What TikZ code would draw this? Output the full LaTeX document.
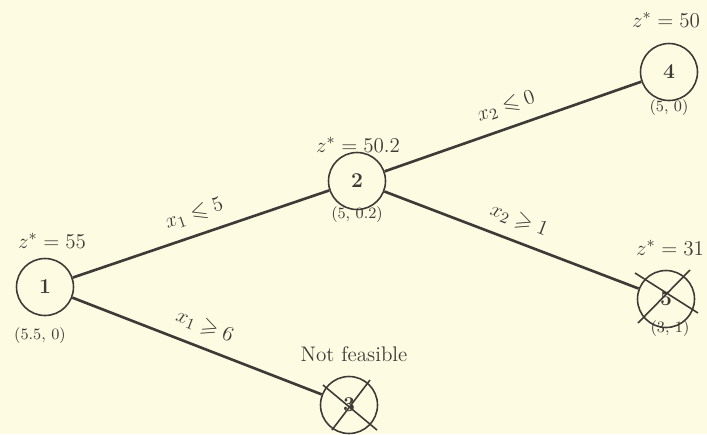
\documentclass[tikz,border=0pt]{standalone}
\usepackage{amssymb}
\usepackage{xcolor}
\usepackage{tikz}
\usetikzlibrary{positioning}
\definecolor{paper}{RGB}{253,251,226}
\definecolor{ink}{RGB}{62,58,54}

\tikzset{
  bbnode/.style={circle, draw=ink, line width=0.9pt, minimum size=1.14cm, inner sep=0pt, font=\bfseries\large, text=ink},
  branch/.style={draw=ink, line width=1.5pt},
  bound/.style={font=\fontsize{12.5}{15}\selectfont, text=ink},
  cond/.style={font=\fontsize{12.5}{15}\selectfont, text=ink, midway, above=3pt, sloped},
  sol/.style={font=\small, text=ink},
  cut/.style={draw=ink, line width=0.9pt}
}

\begin{document}
\begin{tikzpicture}[x=0.02cm, y=-0.02cm]
% Paper background
\fill[paper] (0,0) rectangle (707,434);
\clip (0,0) rectangle (707,434);

% Nodes
\node[bbnode] (n1) at (45,287) {1};
\node[bbnode] (n2) at (357,181) {2};
\node[bbnode] (n4) at (669,72) {4};
\node[bbnode] (n5) at (666,299) {5};
\node[bbnode] (n3) at (349,405) {3};

% Bounds and solutions
\node[bound] (b1) at (52,241) {$z^* = 55$};
\node[sol] (s1) at (40,336) {(5.5, 0)};
\node[bound] (b2) at (358,145) {$z^* = 50.2$};
\node[sol] (s2) at (357,215) {(5, 0.2)};
\node[bound] (b4) at (666,20) {$z^* = 50$};
\node[sol] (s4) at (669,108) {(5, 0)};
\node[bound] (b5) at (670,248) {$z^* = 31$};
\node[sol] (s5) at (670,329) {(3, 1)};
\node[font=\large, text=ink] (nf) at (354,354) {Not feasible};

% Branches
\draw[branch] (n1) -- node[cond] {$x_1 \leqslant 5$} (n2);
\draw[branch] (n1) -- node[cond] {$x_1 \geqslant 6$} (n3);
\draw[branch] (n2) -- node[cond] {$x_2 \leqslant 0$} (n4);
\draw[branch] (n2) -- node[cond] {$x_2 \geqslant 1$} (n5);

% Crossed-out nodes
\draw[cut] (n5.center) +(-31,-26) -- +(32,14);
\draw[cut] (n5.center) +(24,-29) -- +(-28,24);
\draw[cut] (n3.center) +(-26,-20) -- +(28,25);
\draw[cut] (n3.center) +(21,-25) -- +(-17,25);
\end{tikzpicture}
\end{document}
